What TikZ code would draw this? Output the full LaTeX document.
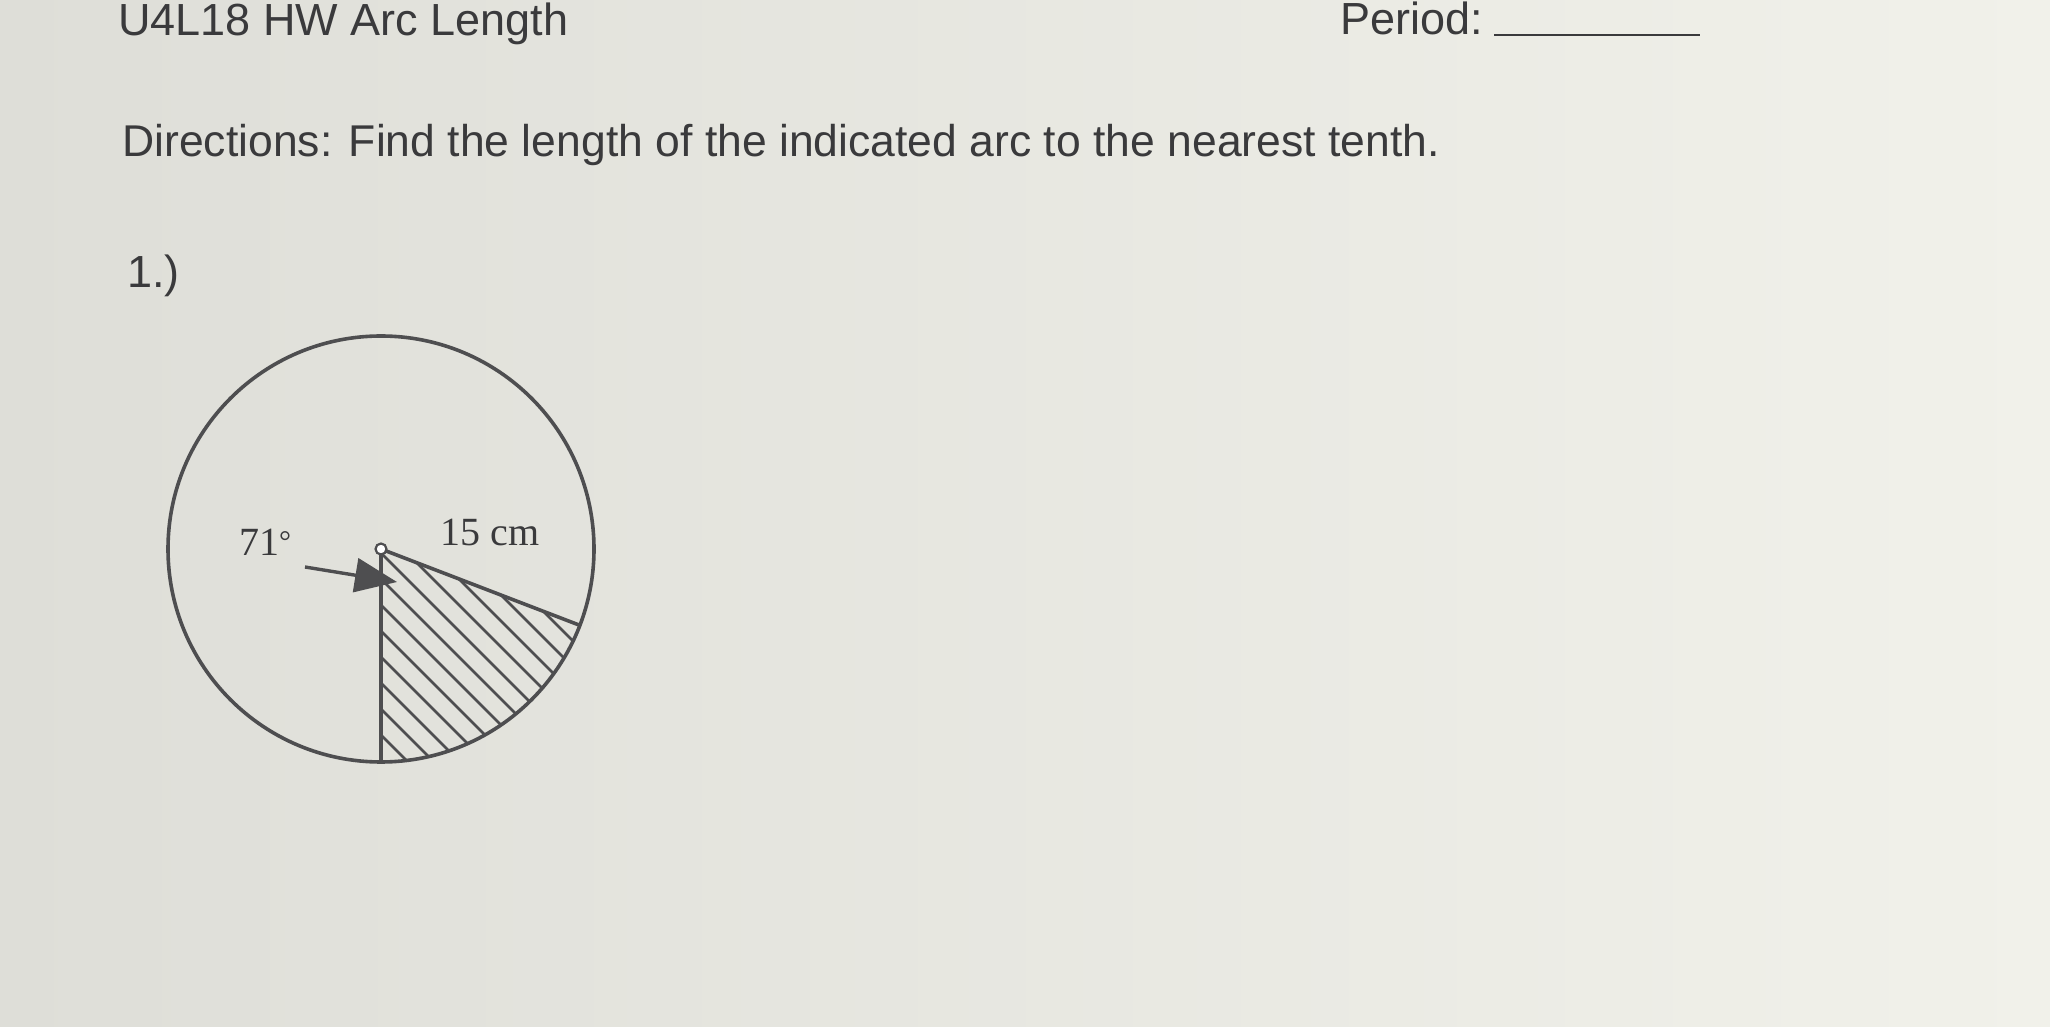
\documentclass[tikz,border=0pt]{standalone}
\usepackage{fontspec}
\setmainfont{Liberation Sans}
\newfontfamily\serifface{Liberation Serif}
\usetikzlibrary{arrows.meta,calc}
\definecolor{txt}{RGB}{58,58,60}
\definecolor{ink}{RGB}{78,78,80}
\definecolor{bgl}{RGB}{222,222,216}
\definecolor{bgr}{RGB}{241,241,234}
\begin{document}
\begin{tikzpicture}[x=1pt,y=1pt,
  hdr/.style={anchor=base west,inner sep=0pt,text=txt,font=\fontsize{45}{54}\selectfont},
  lbl/.style={inner sep=0pt,text=txt,font=\serifface\fontsize{40}{48}\selectfont},
  rim/.style={draw=ink,line width=3.6pt},
  hatchline/.style={draw=ink,line width=2.8pt}]
\useasboundingbox (0,0) rectangle (2050,1026);
\shade[left color=bgl,right color=bgr] (0,0) rectangle (2050,1026);
% header
\node[hdr] (title) at (118,990) {U4L18 HW Arc Length};
\node[hdr] (period) at (1340,991) {Period:};
\coordinate (ulA) at (1494,991);
\coordinate (ulB) at (1700,991);
\draw[draw=txt,line width=2.5pt] (ulA) -- (ulB);
\node[hdr,font=\fontsize{44.5}{54}\selectfont] (dir) at (122,869) {Directions: Find the length of the indicated arc to the nearest tenth.};
\node[hdr] (num) at (127,738) {1.)};
% circle
\coordinate (C) at (381,477);
\coordinate (B) at (381,264);
\coordinate (P) at ($(C)+(-21:213pt)$);
\begin{scope}
  \clip (C) -- (B) arc[start angle=-90,end angle=-21,radius=213] -- cycle;
  \foreach \k in {646,672,...,1100}{
    \draw[hatchline] (300,\k-300) -- (720,\k-720);
  }
\end{scope}
\draw[rim] (C) circle[radius=213];
\draw[rim] (C) -- (B);
\draw[rim] (C) -- (P);
\node[draw=ink,fill=white,circle,line width=2.2pt,minimum size=11pt,inner sep=0pt] (O) at (C) {};
% arrow
\coordinate (arrS) at (305,459);
\coordinate (arrT) at (397,444);
\draw[draw=ink,line width=3.4pt,-{Triangle[length=42pt,width=34pt]}] (arrS) -- (arrT);
% labels
\node[lbl] (ang) at (265,484) {71\raisebox{4pt}{\fontsize{30}{36}\selectfont°}};
\node[lbl] (rad) at (490,494) {15 cm};
\end{tikzpicture}
\end{document}
